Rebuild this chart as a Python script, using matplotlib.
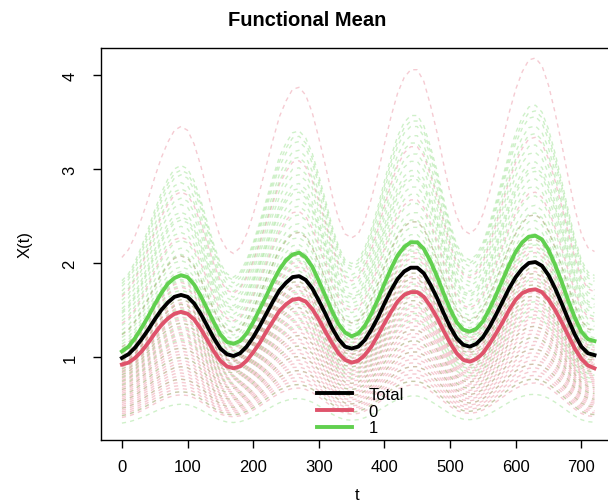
import matplotlib
matplotlib.use("Agg")
import matplotlib.pyplot as plt
from matplotlib.lines import Line2D
import numpy as np

plt.rcParams['font.family'] = ['Liberation Sans', 'DejaVu Sans']

# time grid (every 10 units)
t = list(range(0, 730, 10))

# functional means
mean_total = [0.99, 1.03, 1.10, 1.19, 1.29, 1.40, 1.50, 1.58, 1.64, 1.66,
              1.64, 1.57, 1.46, 1.33, 1.20, 1.09, 1.03,
              1.01, 1.04, 1.11, 1.21, 1.33, 1.46, 1.59, 1.71, 1.79, 1.85,
              1.86, 1.82, 1.73, 1.60, 1.46, 1.31, 1.19, 1.11,
              1.09, 1.11, 1.18, 1.29, 1.42, 1.57, 1.71, 1.83, 1.91, 1.95,
              1.95, 1.89, 1.77, 1.63, 1.47, 1.32, 1.20, 1.13,
              1.11, 1.14, 1.21, 1.32, 1.45, 1.59, 1.73, 1.85, 1.94, 2.00,
              2.01, 1.97, 1.87, 1.73, 1.57, 1.40, 1.24, 1.11, 1.04,
              1.02]
mean_g1 = [1.06, 1.11, 1.20, 1.31, 1.43, 1.56, 1.68, 1.78, 1.84, 1.87,
           1.85, 1.77, 1.65, 1.51, 1.37, 1.24, 1.16,
           1.14, 1.17, 1.25, 1.37, 1.51, 1.65, 1.80, 1.93, 2.03, 2.09,
           2.11, 2.06, 1.96, 1.81, 1.65, 1.49, 1.35, 1.26,
           1.22, 1.25, 1.33, 1.46, 1.61, 1.78, 1.94, 2.08, 2.17, 2.22,
           2.22, 2.15, 2.02, 1.86, 1.68, 1.51, 1.37, 1.29,
           1.27, 1.30, 1.38, 1.51, 1.66, 1.82, 1.98, 2.12, 2.22, 2.28,
           2.29, 2.25, 2.14, 1.98, 1.80, 1.60, 1.42, 1.27, 1.19,
           1.17]
mean_g0 = [0.92, 0.94, 0.99, 1.06, 1.15, 1.25, 1.34, 1.41, 1.46, 1.48,
           1.46, 1.40, 1.30, 1.18, 1.06, 0.96, 0.90,
           0.88, 0.90, 0.96, 1.05, 1.15, 1.27, 1.38, 1.49, 1.56, 1.61,
           1.62, 1.59, 1.51, 1.40, 1.27, 1.15, 1.04, 0.97,
           0.94, 0.96, 1.02, 1.11, 1.23, 1.36, 1.48, 1.59, 1.66, 1.69,
           1.69, 1.64, 1.54, 1.42, 1.28, 1.15, 1.04, 0.97,
           0.95, 0.98, 1.04, 1.14, 1.25, 1.37, 1.50, 1.61, 1.68, 1.71,
           1.72, 1.69, 1.61, 1.50, 1.37, 1.23, 1.09, 0.98, 0.91,
           0.88]

# individual curves: level of each curve relative to the overall mean (read from peak heights)
levels_g0 = [2.08, 0.62, 1.66, 0.40, 1.37, 0.88, 1.25, 0.56, 1.12, 0.74,
             1.05, 0.46, 1.00, 0.80, 0.97, 0.52, 0.94, 0.68, 0.92, 0.36,
             0.90, 0.60, 0.86, 0.44, 0.84, 0.70, 0.82, 0.50, 0.78, 0.38,
             0.76, 0.64, 0.72, 0.48, 0.66, 0.42, 0.58, 0.54, 0.95, 1.08]
levels_g1 = [1.83, 0.85, 1.80, 1.09, 1.77, 0.46, 1.72, 1.03, 1.68, 0.91,
             1.62, 1.25, 1.58, 0.30, 1.53, 1.15, 1.50, 0.75, 1.48, 1.22,
             1.44, 0.66, 1.40, 1.12, 1.35, 0.97, 1.30, 0.54, 1.26, 1.18,
             1.10, 0.88, 1.06, 0.38, 1.00, 0.82, 0.94, 0.79, 0.71, 0.60]

col0 = '#DF536B'
col1 = '#61D04F'

fig = plt.figure(figsize=(6.08, 5.02), dpi=100)
ax = fig.add_axes([0.166, 0.1215, 0.842, 0.7809])

base = np.array(mean_total)
n = max(len(levels_g0), len(levels_g1))
for i in range(n):
    if i < len(levels_g0):
        ax.plot(t, levels_g0[i] * base, color=col0, alpha=0.3, lw=1.0,
                linestyle=(0, (3, 3)))
    if i < len(levels_g1):
        ax.plot(t, levels_g1[i] * base, color=col1, alpha=0.3, lw=1.0,
                linestyle=(0, (3, 3)))

ax.plot(t, mean_g1, color=col1, lw=2.8, solid_joinstyle='round')
ax.plot(t, mean_g0, color=col0, lw=2.8, solid_joinstyle='round')
ax.plot(t, mean_total, color='black', lw=2.8, solid_joinstyle='round')

ax.set_xlim(-32, 748)
ax.set_ylim(0.117, 4.287)
ax.set_xticks([0, 100, 200, 300, 400, 500, 600, 700])
ax.set_yticks([1, 2, 3, 4])
ax.tick_params(axis='both', direction='out', length=6, width=1, labelsize=12)
ax.tick_params(axis='x', pad=8)
ax.tick_params(axis='y', pad=11)
for lab in ax.get_yticklabels():
    lab.set_rotation(90)
    lab.set_va('center')
for sp in ax.spines.values():
    sp.set_linewidth(1.0)

fig.text(307 / 608, 1 - 20 / 502, 'Functional Mean', ha='center', va='center',
         fontsize=14.5, fontweight='bold')
fig.text(357 / 608, 1 - 496 / 502, 't', ha='center', va='center', fontsize=12)
fig.text(25 / 608, 1 - 245 / 502, 'X(t)', ha='center', va='center', fontsize=12,
         rotation=90)

handles = [Line2D([], [], color='black', lw=2.8),
           Line2D([], [], color=col0, lw=2.8),
           Line2D([], [], color=col1, lw=2.8)]
fig.legend(handles, ['Total', '0', '1'], loc='upper left',
           bbox_to_anchor=(317 / 608, 1 - 388 / 502), frameon=False,
           fontsize=12, handlelength=2.1, handletextpad=1.0,
           labelspacing=0.1, borderpad=0, borderaxespad=0)

fig.savefig('out.png', dpi=100)
